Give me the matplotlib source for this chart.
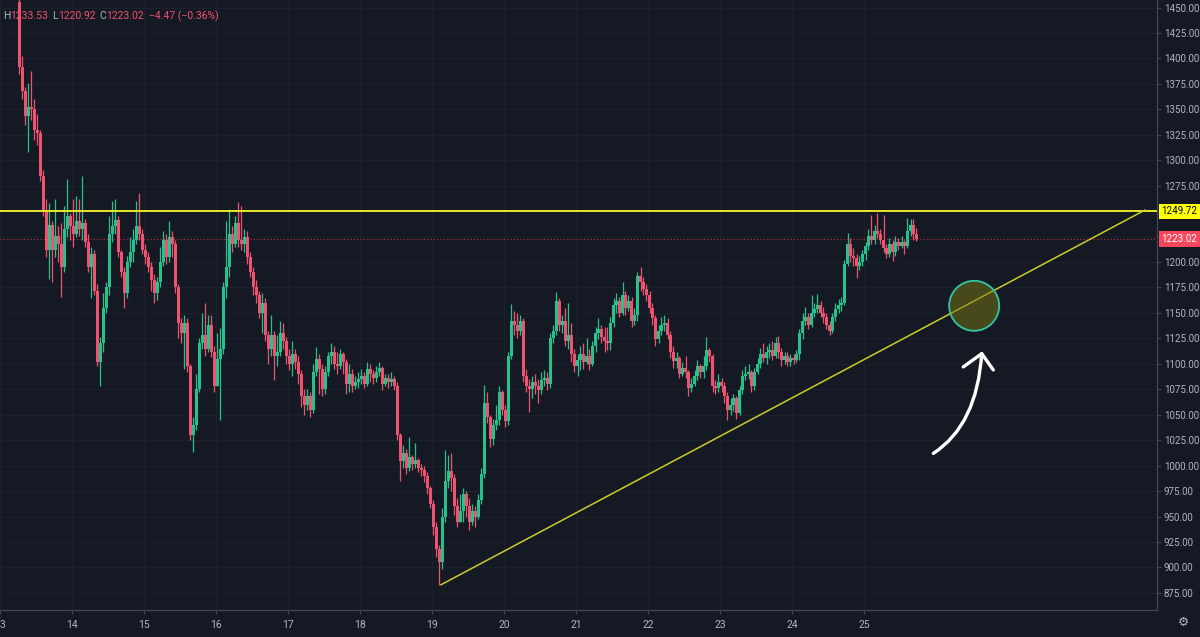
import matplotlib
matplotlib.use("Agg")
import matplotlib.pyplot as plt
from matplotlib.patches import Ellipse, PathPatch
from matplotlib.path import Path
import numpy as np

# hourly candles, first one at 13th 06:00
first_hour = 6
first_open = 1455

closes = [
    1392, 1368, 1343, 1352, 1350, 1330, 1327, 1285, 1250, 1212,
    1236, 1212, 1226, 1218, 1195, 1232, 1245, 1235, 1228, 1240,
    1232, 1238, 1220, 1195, 1208, 1172, 1102, 1120, 1155, 1175,
    1228, 1235, 1241, 1210, 1190, 1170, 1200, 1210, 1222, 1235,
    1228, 1212, 1205, 1195, 1182, 1170, 1180, 1200, 1222, 1205,
    1225, 1218, 1175, 1140, 1130, 1140, 1098, 1030, 1040, 1075,
    1120, 1128, 1115, 1138, 1112, 1078, 1105, 1115, 1175, 1195,
    1228, 1218, 1238, 1222, 1218, 1225, 1205, 1190, 1175, 1168,
    1150, 1160, 1128, 1115, 1128, 1108, 1112, 1130, 1122, 1108,
    1100, 1110, 1102, 1090, 1068, 1060, 1068, 1055, 1092, 1105,
    1095, 1075, 1092, 1108, 1112, 1100, 1098, 1110, 1102, 1080,
    1090, 1078, 1082, 1085, 1088, 1080, 1095, 1090, 1086, 1092,
    1096, 1080, 1086, 1082, 1085, 1078, 1030, 1005, 1012, 998,
    1008, 1002, 1006, 998, 996, 990, 978, 962, 940, 918,
    905, 950, 985, 995, 988, 960, 945, 955, 972, 960,
    945, 955, 950, 966, 992, 1062, 1048, 1026, 1040, 1045,
    1072, 1055, 1044, 1108, 1142, 1138, 1132, 1142, 1088, 1078,
    1075, 1082, 1078, 1074, 1084, 1086, 1080, 1125, 1132, 1162,
    1138, 1142, 1122, 1128, 1110, 1098, 1104, 1110, 1102, 1108,
    1100, 1118, 1130, 1134, 1126, 1122, 1120,
    1140, 1158, 1162, 1150, 1168, 1155, 1162, 1142, 1148, 1186,
    1180, 1174, 1168, 1155, 1145, 1124, 1132, 1138, 1140, 1128,
    1112, 1103, 1106, 1090, 1096, 1092, 1076, 1080, 1088, 1098,
    1092, 1098, 1114, 1108, 1078, 1076, 1082, 1078, 1068, 1055,
    1060, 1066, 1052, 1074, 1088, 1090, 1092, 1078, 1092, 1100,
    1110, 1106, 1112, 1114, 1108, 1120, 1112, 1104, 1108, 1102,
    1106, 1104, 1110, 1130, 1142, 1146, 1138, 1150, 1154, 1158,
    1150, 1146, 1138, 1132, 1146, 1154, 1158, 1160, 1198, 1218,
    1206, 1204, 1196, 1200, 1208, 1216, 1226, 1222, 1230, 1228,
    1222, 1214, 1208, 1218, 1210, 1220, 1216, 1220, 1216, 1230,
    1236, 1227.49, 1223.02,
]
highs = [
    1462, 1402, 1372, 1376, 1388, 1360, 1345, 1330, 1290, 1262,
    1258, 1240, 1262, 1235, 1238, 1255, 1282, 1248, 1262, 1265,
    1262, 1285, 1242, 1228, 1215, 1212, 1178, 1126, 1170, 1180,
    1245, 1260, 1262, 1245, 1212, 1195, 1206, 1225, 1232, 1260,
    1268, 1232, 1218, 1210, 1200, 1188, 1185, 1215, 1230, 1228,
    1240, 1230, 1222, 1178, 1145, 1148, 1145, 1100, 1048, 1090,
    1125, 1150, 1160, 1148, 1148, 1118, 1130, 1135, 1180, 1240,
    1252, 1235, 1245, 1259, 1255, 1232, 1230, 1210, 1195, 1182,
    1172, 1170, 1165, 1132, 1148, 1132, 1128, 1142, 1140, 1126,
    1115, 1122, 1115, 1108, 1094, 1075, 1075, 1072, 1100, 1117,
    1110, 1100, 1098, 1112, 1120, 1118, 1112, 1115, 1112, 1105,
    1100, 1095, 1088, 1092, 1095, 1092, 1102, 1100, 1094, 1098,
    1102, 1098, 1090, 1090, 1092, 1088, 1082, 1032, 1020, 1016,
    1028, 1010, 1022, 1008, 1002, 1000, 994, 980, 966, 945,
    922, 958, 1015, 1010, 1012, 992, 968, 972, 978, 975,
    968, 962, 960, 972, 998, 1079, 1072, 1050, 1046, 1060,
    1078, 1074, 1060, 1112, 1159, 1152, 1150, 1148, 1145, 1095,
    1085, 1088, 1090, 1085, 1092, 1094, 1092, 1130, 1138, 1171,
    1165, 1148, 1155, 1160, 1140, 1115, 1110, 1118, 1120, 1125,
    1115, 1122, 1136, 1145, 1138, 1136, 1136,
    1146, 1165, 1170, 1166, 1180, 1172, 1168, 1166, 1155, 1190,
    1195, 1185, 1178, 1172, 1160, 1148, 1138, 1146, 1148, 1145,
    1132, 1118, 1112, 1108, 1102, 1108, 1094, 1086, 1094, 1104,
    1100, 1108, 1126, 1116, 1110, 1084, 1090, 1086, 1082, 1072,
    1066, 1070, 1068, 1078, 1094, 1098, 1100, 1094, 1096, 1106,
    1116, 1120, 1118, 1120, 1122, 1126, 1127, 1116, 1112, 1112,
    1110, 1110, 1114, 1134, 1150, 1156, 1150, 1168, 1160, 1169,
    1162, 1156, 1150, 1142, 1150, 1160, 1164, 1166, 1202, 1229,
    1224, 1214, 1208, 1206, 1212, 1220, 1232, 1246, 1236, 1248,
    1232, 1246, 1218, 1224, 1222, 1226, 1224, 1226, 1222, 1243,
    1242, 1242, 1233.53,
]
lows = [
    1385, 1360, 1335, 1308, 1340, 1320, 1315, 1280, 1245, 1205,
    1183, 1180, 1205, 1200, 1166, 1190, 1225, 1222, 1215, 1225,
    1226, 1222, 1215, 1190, 1165, 1168, 1098, 1078, 1112, 1150,
    1168, 1220, 1228, 1205, 1185, 1155, 1165, 1195, 1200, 1218,
    1222, 1208, 1198, 1190, 1172, 1160, 1163, 1175, 1196, 1198,
    1200, 1205, 1170, 1125, 1120, 1095, 1092, 1025, 1013, 1035,
    1072, 1115, 1108, 1112, 1107, 1072, 1078, 1045, 1110, 1165,
    1185, 1210, 1215, 1215, 1212, 1210, 1198, 1185, 1168, 1160,
    1145, 1130, 1122, 1100, 1108, 1084, 1098, 1108, 1115, 1100,
    1094, 1088, 1095, 1080, 1058, 1050, 1055, 1048, 1052, 1088,
    1070, 1068, 1070, 1088, 1100, 1095, 1090, 1095, 1090, 1070,
    1072, 1072, 1075, 1076, 1080, 1076, 1078, 1082, 1080, 1082,
    1088, 1074, 1078, 1076, 1078, 1074, 1025, 985, 998, 992,
    995, 996, 998, 994, 990, 984, 972, 958, 932, 910,
    883, 898, 945, 978, 975, 952, 940, 948, 945, 950,
    937, 942, 940, 948, 962, 988, 1042, 1018, 1020, 1035,
    1040, 1050, 1038, 1040, 1105, 1128, 1125, 1128, 1082, 1072,
    1053, 1066, 1070, 1062, 1070, 1078, 1074, 1076, 1120, 1128,
    1132, 1130, 1118, 1115, 1102, 1092, 1088, 1094, 1095, 1100,
    1094, 1098, 1112, 1124, 1120, 1112, 1114,
    1114, 1136, 1150, 1146, 1148, 1148, 1152, 1136, 1138, 1142,
    1172, 1168, 1162, 1150, 1138, 1118, 1120, 1128, 1132, 1124,
    1106, 1096, 1096, 1086, 1088, 1086, 1068, 1072, 1078, 1084,
    1086, 1086, 1094, 1102, 1072, 1070, 1072, 1072, 1062, 1045,
    1050, 1054, 1046, 1050, 1070, 1084, 1085, 1072, 1074, 1090,
    1096, 1102, 1100, 1106, 1104, 1106, 1106, 1098, 1100, 1098,
    1098, 1100, 1102, 1104, 1124, 1138, 1134, 1136, 1146, 1150,
    1146, 1140, 1134, 1128, 1130, 1142, 1150, 1152, 1158, 1196,
    1200, 1196, 1184, 1192, 1196, 1202, 1212, 1218, 1218, 1224,
    1218, 1210, 1204, 1205, 1201, 1206, 1212, 1214, 1208, 1214,
    1226, 1222, 1220.92,
]

resistance = 1249.72
last_close = 1223.02
# rising support: from the 19th low to where it meets resistance
trend_days = [19.125, 28.90]
trend_prices = [883, 1251]
circle_center = (26.53, 1157)
# hand-drawn arrow: quadratic curve (start, control, tip) + head
arrow_curve = [(25.963, 1012), (26.57, 1040), (26.635, 1110)]
arrow_head_days = [26.379, 26.635, 26.796]
arrow_head_prices = [1097, 1110, 1094]

price_ticks = np.arange(875, 1451, 25)
day_ticks = list(range(13, 26))

BG = "#151924"
GRID = "#1c202b"
UP = "#26c28d"
DOWN = "#ef5370"
TXT = "#b2b5be"
YEL = "#e8e82c"

plt.rcParams["font.family"] = ["Roboto", "DejaVu Sans"]

closes = np.array(closes, float)
opens = np.r_[first_open, closes[:-1]]
highs = np.maximum(np.array(highs, float), np.maximum(opens, closes))
lows = np.minimum(np.array(lows, float), np.minimum(opens, closes))
x = 13 + (first_hour + np.arange(len(closes)) + 0.5) / 24
colors = np.where(closes >= opens, UP, DOWN)

fig = plt.figure(figsize=(12, 6.37), dpi=100, facecolor=BG)
ax = fig.add_axes([0, 1 - 610 / 637, 1157 / 1200, 610 / 637])
ax.set_facecolor(BG)

ax.vlines(x, lows, highs, colors=colors, lw=0.9, zorder=3)
body = np.maximum(np.abs(closes - opens), 0.8)
ax.bar(x, body, bottom=np.minimum(opens, closes), width=0.028,
       color=colors, linewidth=0, zorder=4)

ax.axhline(resistance, color=YEL, lw=1.4, zorder=5)
ax.axhline(last_close, color="#f23645", lw=0.8, ls=(0, (1, 2)), alpha=0.8, zorder=2)
ax.plot(trend_days, trend_prices, color="#cccc2a", lw=1.1, zorder=5)

ax.add_patch(Ellipse(circle_center, 50 / 72, 50 / 1.018, facecolor="#7a7a14",
                     alpha=0.5, edgecolor="none", zorder=6))
ax.add_patch(Ellipse(circle_center, 50 / 72, 50 / 1.018, facecolor="none",
                     edgecolor="#2fc6a4", lw=1.3, zorder=7))
ax.add_patch(PathPatch(Path(arrow_curve, [Path.MOVETO, Path.CURVE3, Path.CURVE3]),
                       facecolor="none", edgecolor="white", lw=2.4,
                       capstyle="round", zorder=8))
ax.plot(arrow_head_days, arrow_head_prices, color="white", lw=2.4,
        solid_capstyle="round", solid_joinstyle="round", zorder=8)

ax.set_xlim(13, 13 + 1157 / 72)
ax.set_ylim(858.2, 1457.4)
ax.set_xticks(day_ticks)
ax.set_xticklabels([str(d) for d in day_ticks])
ax.set_yticks(price_ticks)
# 1225 and 1250 sit under the price boxes
ax.set_yticklabels(["" if p in (1225, 1250) else f"{p:.2f}" for p in price_ticks])
ax.yaxis.tick_right()
ax.tick_params(axis="both", colors="#434651", labelcolor=TXT, labelsize=7,
               length=3, width=0.8)
ax.tick_params(axis="y", pad=2)
ax.tick_params(axis="x", pad=4, labelsize=7.5)
ax.grid(color=GRID, lw=0.8, zorder=0)
for side in ["top", "left"]:
    ax.spines[side].set_visible(False)
for side in ["right", "bottom"]:
    ax.spines[side].set_color("#434651")
    ax.spines[side].set_linewidth(0.9)

ytr = ax.get_yaxis_transform()
ax.text(1.004, resistance, "1249.72", transform=ytr, ha="left", va="center",
        fontsize=7, color="black", clip_on=False, zorder=10,
        bbox=dict(boxstyle="square,pad=0.3", fc="#ffff00", ec="none"))
ax.text(1.004, last_close, "1223.02", transform=ytr, ha="left", va="center",
        fontsize=7, color="white", clip_on=False, zorder=10,
        bbox=dict(boxstyle="square,pad=0.3", fc="#f7475f", ec="none"))

fig.text(1183 / 1200, 1 - 622 / 637, "\u2699", color=TXT, fontsize=9,
         ha="center", va="center", family=["DejaVu Sans"])

# OHLC legend, top left
renderer = fig.canvas.get_renderer()
pieces = [("H", TXT), ("1233.53", DOWN), ("L", TXT), ("1220.92", DOWN),
          ("C", TXT), ("1223.02", DOWN), ("\u22124.47 (\u22120.36%)", DOWN)]
gaps = [0, 0, 4, 0, 4, 0, 5]
xpos = 3
for (s, c), g in zip(pieces, gaps):
    xpos += g
    t = fig.text(xpos / 1200, 1 - 16 / 637, s, color=c, fontsize=7.5, va="center")
    xpos = t.get_window_extent(renderer).x1

fig.savefig("out.png", dpi=100, facecolor=BG)
